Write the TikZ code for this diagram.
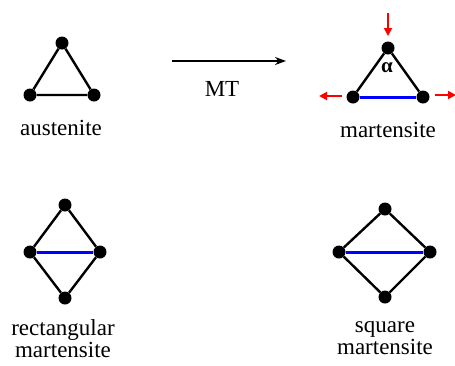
\documentclass[tikz,border=0pt]{standalone}
\usepackage{fontspec}
\setmainfont{Liberation Serif}
\newfontfamily\tnr{Liberation Serif}
\usetikzlibrary{arrows.meta}
\begin{document}
\begin{tikzpicture}[x=1pt,y=-1pt,
  atom/.style={circle,fill=black,inner sep=0pt,minimum size=13pt},
  bond/.style={line width=2.4pt,black},
  bbond/.style={line width=3pt,blue},
  lbl/.style={font=\tnr\fontsize{23}{25}\selectfont,inner sep=0pt,align=center},
  force/.style={line width=1.8pt,red,-{Triangle[length=8pt,width=8pt]}}]
\useasboundingbox (0,0) rectangle (455,365);
% austenite
\node[atom] (a1) at (62,43) {};
\node[atom] (a2) at (30,95) {};
\node[atom] (a3) at (94,95) {};
\draw[bond] (a1) -- (a2) -- (a3) -- (a1);
\node[lbl] (la) at (61,128) {austenite};
% MT arrow
\coordinate (m1) at (172,61);
\coordinate (m2) at (286,61);
\draw[line width=1.8pt,-{Stealth[length=11pt,width=8pt]}] (m1) -- (m2);
\node[lbl] (mt) at (222,89) {MT};
% martensite
\node[atom] (b1) at (388,48) {};
\node[atom] (b2) at (353,97) {};
\node[atom] (b3) at (423,97) {};
\draw[bond] (b2) -- (b1) -- (b3);
\draw[bbond] (b2) -- (b3);
\node[font=\tnr\fontsize{21}{23}\selectfont\bfseries,inner sep=0pt] (alpha) at (387,68) {α};
\coordinate (f1s) at (388,13);
\coordinate (f1e) at (388,36);
\coordinate (f2s) at (342,96);
\coordinate (f2e) at (319,96);
\coordinate (f3s) at (435,95);
\coordinate (f3e) at (456,95);
\draw[force] (f1s) -- (f1e);
\draw[force] (f2s) -- (f2e);
\draw[force] (f3s) -- (f3e);
\node[lbl] (lb) at (388,130) {martensite};
% rectangular
\node[atom] (c1) at (65,205) {};
\node[atom] (c2) at (30,252) {};
\node[atom] (c3) at (100,252) {};
\node[atom] (c4) at (65,298) {};
\draw[bond] (c1) -- (c2) -- (c4) -- (c3) -- (c1);
\draw[bbond] (c2) -- (c3);
\node[lbl] (lc) at (63,339) {rectangular\\[-3pt]martensite};
% square
\node[atom] (d1) at (385,209) {};
\node[atom] (d2) at (339,252) {};
\node[atom] (d3) at (430,252) {};
\node[atom] (d4) at (385,297) {};
\draw[bond] (d1) -- (d2) -- (d4) -- (d3) -- (d1);
\draw[bbond] (d2) -- (d3);
\node[lbl] (ld) at (385,338) {square\\[-3pt]martensite};
\end{tikzpicture}
\end{document}
